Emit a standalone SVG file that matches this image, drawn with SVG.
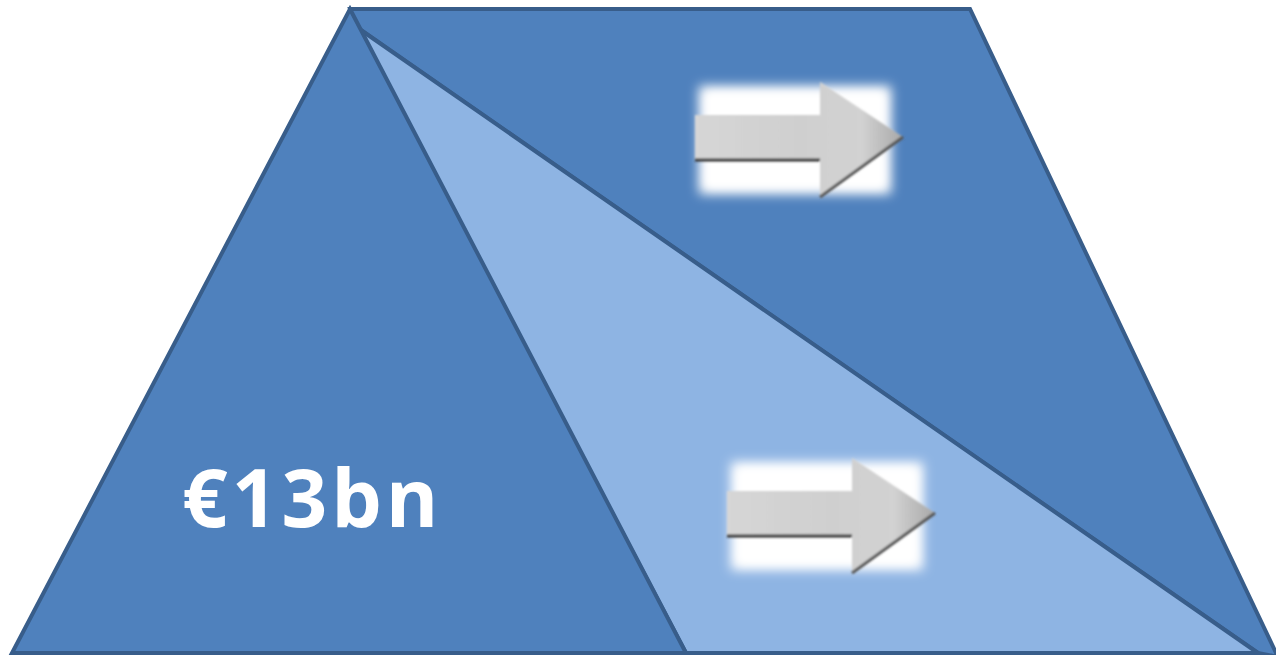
<svg xmlns="http://www.w3.org/2000/svg" width="1276" height="655" viewBox="0 0 1276 655">
<defs>
<style>
.dk{fill:#4F81BD;stroke:#385D8A;stroke-width:4;stroke-linejoin:miter}
.lt{fill:#8EB4E3;stroke:#385D8A;stroke-width:4}
.lbl{font-family:"Open Sans","DejaVu Sans",sans-serif;font-weight:bold;font-size:80px;letter-spacing:4px;fill:#FFFFFF}
</style>
<filter id="glow" x="-30%" y="-30%" width="160%" height="160%"><feGaussianBlur stdDeviation="6"/></filter>
<filter id="soft" x="-10%" y="-10%" width="120%" height="120%"><feGaussianBlur stdDeviation="1.2"/></filter>
<linearGradient id="metal" x1="0" y1="0" x2="1" y2="0">
<stop offset="0" stop-color="#D6D6D6"/>
<stop offset="0.5" stop-color="#CFCFCF"/>
<stop offset="0.8" stop-color="#D2D2D2"/>
<stop offset="1" stop-color="#A8A8A8"/>
</linearGradient>
<g id="arrow">
<rect x="4" y="4" width="192" height="108" fill="#FFFFFF" filter="url(#glow)"/>
<rect x="12" y="12" width="176" height="92" fill="#FFFFFF" filter="url(#glow)"/>
<g filter="url(#soft)">
<path d="M0,33 H125 V0 L208,55 L125,115 V78 H0 Z" fill="url(#metal)"/>
<path d="M0,78 H125" stroke="#333" stroke-width="3" fill="none"/>
<path d="M125,115 L208,55" stroke="#555" stroke-width="3" fill="none"/>
</g>
</g>
</defs>
<g id="right-shape"><polygon class="dk" points="350,9 970,9 1278,657 1258,653 355,26"/></g>
<g id="middle-triangle"><polygon class="lt" points="355,26 1258,653 686,653"/></g>
<g id="left-triangle"><polygon class="dk" points="350,9 686,653 12,653"/></g>
<g id="arrow-top"><use href="#arrow" x="695" y="82"/></g>
<g id="arrow-bottom"><use href="#arrow" x="727" y="458"/></g>
<g id="label"><text class="lbl" x="182" y="527">€13bn</text></g>
<g id="connectors"/>
</svg>
